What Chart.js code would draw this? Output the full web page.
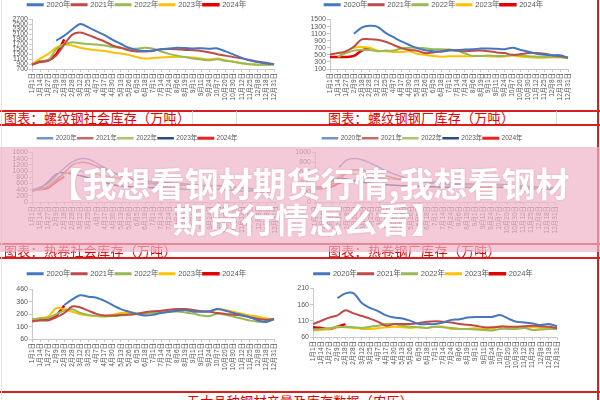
<!DOCTYPE html>
<html>
<head>
<meta charset="utf-8">
<script src="https://cdn.jsdelivr.net/npm/chart.js@4.4.1/dist/chart.umd.min.js"></script>
<style>
  body { margin: 0; width: 600px; height: 400px; overflow: hidden; background: #fff; position: relative; }
  .wrap { position: absolute; }
  .hl { position: absolute; left: 0; width: 600px; height: 1.5px; background: #d81e1e; }
  .vl { position: absolute; width: 1px; background: #dcdcdc; }
  .cap { position: absolute; color: #e00000; font: 400 13px "Noto Sans CJK SC", sans-serif; white-space: nowrap; letter-spacing: 0.3px; }
  #pink { position: absolute; left: 0; top: 147px; width: 600px; height: 105px; background: rgba(240, 178, 199, 0.7); }
  #banner { position: absolute; left: 9px; top: 165px; width: 600px; text-align: center; color: #fff;
            font: 700 34px/36px "Noto Sans CJK SC", sans-serif; text-shadow: 0 0 2px rgba(150, 60, 90, 0.25); }
</style>
</head>
<body>

<div class="wrap" style="left:0;top:0"><canvas id="c1" width="300" height="108"></canvas></div>
<div class="wrap" style="left:300px;top:0"><canvas id="c2" width="297" height="108"></canvas></div>
<div class="wrap" style="left:0;top:130px"><canvas id="c3" width="300" height="112"></canvas></div>
<div class="wrap" style="left:290px;top:130px"><canvas id="c4" width="300" height="112"></canvas></div>
<div class="wrap" style="left:0;top:262px"><canvas id="c5" width="300" height="112"></canvas></div>
<div class="wrap" style="left:290px;top:262px"><canvas id="c6" width="300" height="112"></canvas></div>

<!-- table rules and captions -->
<div class="hl" style="top:110px"></div>
<div class="hl" style="top:124px"></div>
<div class="vl" style="left:192px;top:111px;height:13px"></div>
<div class="vl" style="left:236px;top:111px;height:13px"></div>
<div class="vl" style="left:556px;top:111px;height:13px"></div>
<div class="cap" style="left:4px;top:108px">图表：螺纹钢社会库存（万吨）</div>
<div class="cap" style="left:328px;top:108px">图表：螺纹钢钢厂库存（万吨）</div>

<div class="hl" style="top:243px"></div>
<div class="hl" style="top:257px"></div>
<div class="cap" style="left:4px;top:241px">图表：热卷社会库存（万吨）</div>
<div class="cap" style="left:328px;top:241px">图表：热卷钢厂库存（万吨）</div>

<div class="hl" style="top:391px"></div>
<div class="cap" style="left:0;width:600px;text-align:center;top:394px;line-height:13px">五大品种钢材产量及库存数据（农历）</div>

<div style="position:absolute;left:597px;top:0;width:1.5px;height:400px;background:#d81e1e"></div>
<div style="position:absolute;left:1px;top:0;width:1px;height:400px;background:#e4e4e4"></div>

<div id="pink"></div>
<div id="banner">【我想看钢材期货行情,我想看钢材<br>期货行情怎么看】</div>

<script>
// x categories shared by all panels
const days = ['1月1日','1月14日','1月27日','2月9日','2月18日','2月28日','3月12日','3月25日','4月7日','4月17日',
  '4月30日','5月13日','5月26日','6月5日','6月18日','7月1日','7月14日','7月24日','8月6日','8月19日',
  '9月1日','9月11日','9月24日','10月7日','10月20日','10月30日','11月12日','11月25日','12月8日','12月18日','12月31日'];
const years = ['2020年','2021年','2022年','2023年','2024年'];

// 螺纹钢社会库存 (万吨), rows = 2020..2024
const rebarSocial = [
  [null,null,null,1850,2050,2300,2520,2380,2220,2070,1880,1720,1560,1470,1430,1450,1500,1530,1560,1550,1530,1540,1520,1530,1410,1280,1150,1050,980,920,890],
  [870,990,1030,1240,1690,2090,2170,2070,1940,1810,1650,1560,1460,1410,1410,1430,1500,1510,1500,1470,1460,1430,1370,1300,1240,1180,1130,1050,1000,950,890],
  [870,1020,1050,1500,1690,1780,1740,1710,1690,1650,1590,1560,1520,1520,1560,1520,1410,1310,1240,1180,1120,1080,1050,1090,1030,990,930,890,870,870,880],
  [900,1120,1310,1560,1690,1650,1560,1500,1460,1430,1370,1330,1270,1180,1120,1140,1160,1180,1200,1180,1160,1120,1080,1120,1050,990,930,890,870,880,890],
  [890,1000,1050,1300,1900]
];
// 螺纹钢钢厂库存 (万吨)
const rebarMill = [
  [null,null,null,1100,1270,1320,1290,1120,1000,880,780,690,630,600,590,620,640,650,660,680,680,670,660,700,640,590,530,500,490,490,420],
  [510,550,600,730,940,940,930,870,780,690,640,615,550,570,600,640,615,600,615,620,600,570,550,500,520,550,550,530,490,460,420],
  [null,450,550,620,640,640,600,620,620,680,700,700,690,660,660,650,620,540,470,470,480,470,470,500,480,460,450,440,440,430,420],
  [null,440,600,700,720,700,620,600,580,580,600,530,500,470,450,460,460,460,460,470,460,450,450,480,450,430,420,420,430,430,420],
  [440,440,440,470,620,680]
];
// panels under the banner
const coilSocial = [
  [400,480,600,850,1100,1300,1400,1380,1250,1100,950,850,750,680,620,600,580,560,550,540,530,520,510,520,500,470,450,420,400,380,370],
  [380,420,500,700,950,1200,1280,1250,1150,1050,950,850,780,720,680,650,640,620,600,580,560,540,520,530,500,480,460,440,420,400,390],
  [360,400,520,750,900,1000,1000,950,900,850,800,750,700,650,600,560,520,480,450,430,420,410,400,420,410,390,370,350,330,320,320],
  [380,450,650,900,950,900,850,780,700,620,560,520,500,480,470,460,450,440,430,420,420,410,400,410,400,380,360,350,340,330,330],
  [370,400,450,650,820]
];
const coilMill = [
  [null,null,null,700,850,880,850,780,700,620,560,500,450,420,400,380,370,360,360,350,350,340,340,360,340,320,310,300,300,290,280],
  [300,320,350,450,600,650,640,600,560,520,480,450,430,420,410,400,400,390,380,370,360,350,340,350,340,330,320,310,300,300,290],
  [280,300,380,520,580,560,520,500,480,470,460,450,440,420,400,380,360,340,320,310,300,300,300,320,310,300,290,280,280,270,270],
  [280,320,420,480,460,430,400,380,360,350,340,330,320,320,310,310,300,300,300,300,300,290,290,300,290,280,280,270,270,260,260],
  [270,280,300,380,450]
];
// 热卷社会库存 (万吨)
const hotSocial = [
  [null,null,null,null,334,380,413,402,394,368,334,302,281,263,250,255,270,281,289,294,281,281,284,302,289,270,255,236,210,197,223],
  [202,210,210,236,270,323,315,289,263,250,250,255,258,263,276,284,289,297,302,302,294,284,281,270,263,255,250,236,223,215,223],
  [220,225,230,260,290,300,270,255,245,245,245,250,255,260,265,270,275,280,283,275,265,250,245,265,255,240,225,210,200,205,215],
  [215,230,240,310,300,280,260,250,245,240,255,270,275,270,265,270,280,285,290,290,285,285,285,300,295,280,265,250,240,225,215],
  [215,220,225,250,330]
];
// 热卷钢厂库存 (万吨)
const hotMill = [
  [null,null,null,180,195,195,165,150,140,127,120,117,110,100,100,100,105,113,115,120,122,122,122,128,117,107,105,102,97,100,93],
  [100,110,120,127,143,133,125,117,107,95,100,100,100,103,107,109,107,105,100,98,95,90,90,92,92,92,93,95,93,92,87],
  [82,85,87,90,92,90,88,92,95,100,100,95,92,90,88,92,90,88,85,85,83,82,80,85,85,85,88,82,83,85,85],
  [80,82,85,92,90,88,85,85,87,90,92,90,88,90,88,92,92,85,85,85,87,85,85,93,92,88,88,90,88,90,85],
  [90,88,85,92,100]
];

const brightColors = ['#4677BE', '#BE4B48', '#98B954', '#FFC000', '#E30000'];
const paleColors = ['#6F95C9', '#C76A67', '#A9C66E', '#2B4C7E', '#F02020'];

Chart.defaults.font.family = '"Liberation Sans", Arial, "Noto Sans CJK SC", sans-serif';
Chart.defaults.color = '#595959';

// empty layout box between the legend and the plot area
const gapBox = {
  id: 'gapBox',
  beforeInit(chart) {
    const h = chart.config.options.gap || 0;
    Chart.layouts.addBox(chart, {
      position: 'top', weight: 500, fullSize: true, options: {},
      width: 0, height: 0, left: 0, top: 0, right: 0, bottom: 0,
      isHorizontal: () => true,
      update(maxWidth) { this.width = maxWidth; this.height = h; },
      draw() {}
    });
  }
};

function makeChart(id, rows, colors, yr, geo) {
  const datasets = years.map((name, k) => ({
    label: name,
    data: rows[k],
    borderColor: colors[k],
    backgroundColor: colors[k],
    borderWidth: geo.lw + (k === 4 ? 0.5 : 0),
    pointRadius: 0,
    tension: 0.3
  }));
  return new Chart(document.getElementById(id), {
    type: 'line',
    data: { labels: days, datasets: datasets },
    plugins: [gapBox],
    options: {
      responsive: false,
      animation: false,
      gap: geo.gap,
      layout: { padding: geo.pad },
      plugins: {
        legend: {
          labels: { boxWidth: 15, boxHeight: 1, padding: 1, font: { size: geo.lf }, color: '#595959' }
        },
        tooltip: { enabled: false }
      },
      scales: {
        x: {
          offset: false,
          grid: { drawOnChartArea: false, tickLength: 3, color: '#c8c8c8' },
          border: { color: '#c8c8c8' },
          ticks: { autoSkip: false, minRotation: 90, maxRotation: 90, font: { size: 6.5 }, padding: 1 },
          afterFit: s => { s.height = geo.xh; }
        },
        y: {
          min: yr[0], max: yr[1],
          grid: { drawOnChartArea: false, tickLength: 3, color: '#c8c8c8' },
          border: { color: '#c8c8c8' },
          ticks: { stepSize: yr[2], autoSkip: false, font: { size: 7 }, padding: 1, callback: v => String(v) },
          afterFit: s => { s.width = geo.yw; }
        }
      }
    }
  });
}

makeChart('c1', rebarSocial, brightColors, [700, 2700, 200], { pad: { left: 0, right: 26, top: 0, bottom: 6 }, gap: 1, xh: 33, yw: 32, lf: 7.5, lw: 2 });
makeChart('c2', rebarMill, brightColors, [100, 1500, 200], { pad: { left: 0, right: 29, top: 0, bottom: 6 }, gap: 1, xh: 33, yw: 30, lf: 7.5, lw: 2 });
makeChart('c3', coilSocial, paleColors, [0, 1600, 200], { pad: { left: 0, right: 25, top: 4, bottom: 5 }, gap: 1, xh: 35, yw: 32, lf: 6.5, lw: 1.5 });
makeChart('c4', coilMill, paleColors, [0, 1000, 200], { pad: { left: 0, right: 35, top: 4, bottom: 5 }, gap: 1, xh: 35, yw: 25, lf: 6.5, lw: 1.5 });
makeChart('c5', hotSocial, brightColors, [60, 460, 100], { pad: { left: 0, right: 26, top: 7, bottom: 2 }, gap: 2, xh: 33, yw: 32, lf: 7.5, lw: 2 });
makeChart('c6', hotMill, brightColors, [60, 210, 50], { pad: { left: 0, right: 33, top: 7, bottom: 4 }, gap: 1, xh: 33, yw: 23, lf: 7.5, lw: 2 });
</script>
</body>
</html>
